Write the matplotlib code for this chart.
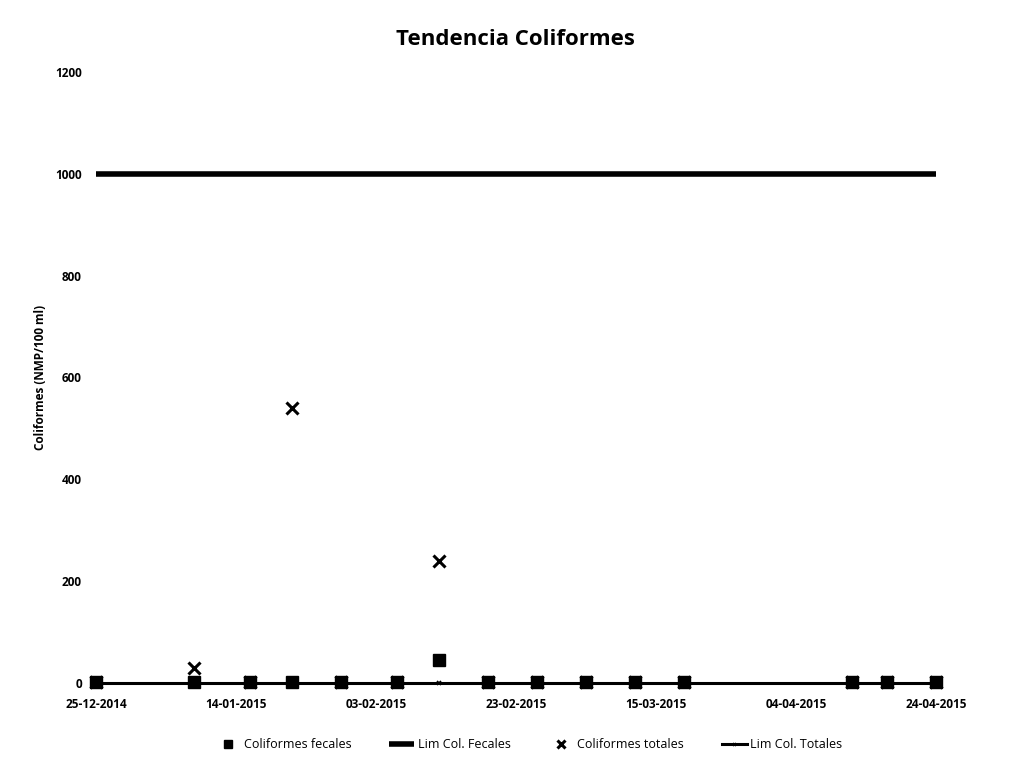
import matplotlib
matplotlib.use("Agg")
import matplotlib.pyplot as plt
import matplotlib.dates as mdates
import numpy as np
import pandas as pd

# Sampling dates and measured values (NMP/100 ml)
fechas = ["2014-12-25", "2015-01-08", "2015-01-16", "2015-01-22", "2015-01-29",
          "2015-02-06", "2015-02-12", "2015-02-19", "2015-02-26", "2015-03-05",
          "2015-03-12", "2015-03-19", "2015-04-12", "2015-04-17", "2015-04-24"]
coliformes_fecales = [2, 2, 2, 2, 2, 2, 45, 2, 2, 2, 2, 2, 2, 2, 2]
coliformes_totales = [2, 30, 2, 540, 2, 2, 240, 2, 2, 2, 2, 2, 2, 2, 2]
lim_col_fecales = [1000] * len(fechas)
lim_col_totales = [0] * len(fechas)

y_ticks = [0, 200, 400, 600, 800, 1000, 1200]
x_tick_dates = ["2014-12-25", "2015-01-14", "2015-02-03", "2015-02-23",
                "2015-03-15", "2015-04-04", "2015-04-24"]

x = pd.to_datetime(fechas)
xt = pd.to_datetime(x_tick_dates)

plt.rcParams['font.family'] = ['Open Sans', 'DejaVu Sans']

fig = plt.figure(figsize=(10.30, 7.58), dpi=100)
ax = fig.add_axes([82 / 1030, 75 / 758, 868 / 1030, 611 / 758])

ax.plot(x, lim_col_fecales, color="black", lw=4.0, solid_capstyle="butt",
        label="Lim Col. Fecales", zorder=2)
ax.plot(x, lim_col_totales, color="black", lw=2.2, marker="x", ms=3, mew=1.2,
        label="Lim Col. Totales", zorder=2, clip_on=False)
ax.plot(x, coliformes_fecales, ls="none", marker="s", ms=8, color="black",
        label="Coliformes fecales", zorder=3, clip_on=False)
ax.plot(x, coliformes_totales, ls="none", marker="x", ms=8, mew=2.2, color="black",
        label="Coliformes totales", zorder=4, clip_on=False)

ax.set_xlim(x[0] - pd.Timedelta(days=2), x[0] + pd.Timedelta(days=122))
ax.set_ylim(0, 1200)
ax.set_yticks(y_ticks)
ax.set_xticks(xt)
ax.xaxis.set_major_formatter(mdates.DateFormatter("%d-%m-%Y"))

for s in ax.spines.values():
    s.set_visible(False)
ax.tick_params(axis="both", length=0, labelsize=8.5)
ax.tick_params(axis="y", pad=0)
ax.tick_params(axis="x", pad=11)
for lbl in ax.get_xticklabels() + ax.get_yticklabels():
    lbl.set_fontweight("bold")

ax.set_ylabel("Coliformes (NMP/100 ml)", fontsize=8.5, fontweight="bold", labelpad=6)
fig.text(0.5, 0.948, "Tendencia Coliformes", ha="center", va="center",
         fontsize=16, fontweight="bold")

h, l = ax.get_legend_handles_labels()
order = [2, 0, 3, 1]
ax.legend([h[i] for i in order], [l[i] for i in order], ncol=4, frameon=False,
          loc="upper center", bbox_to_anchor=(0.515, -0.072), fontsize=9,
          handlelength=2.0, handletextpad=0.3, columnspacing=3.0, markerscale=0.7)

fig.savefig("out.png", dpi=100, facecolor="white")
